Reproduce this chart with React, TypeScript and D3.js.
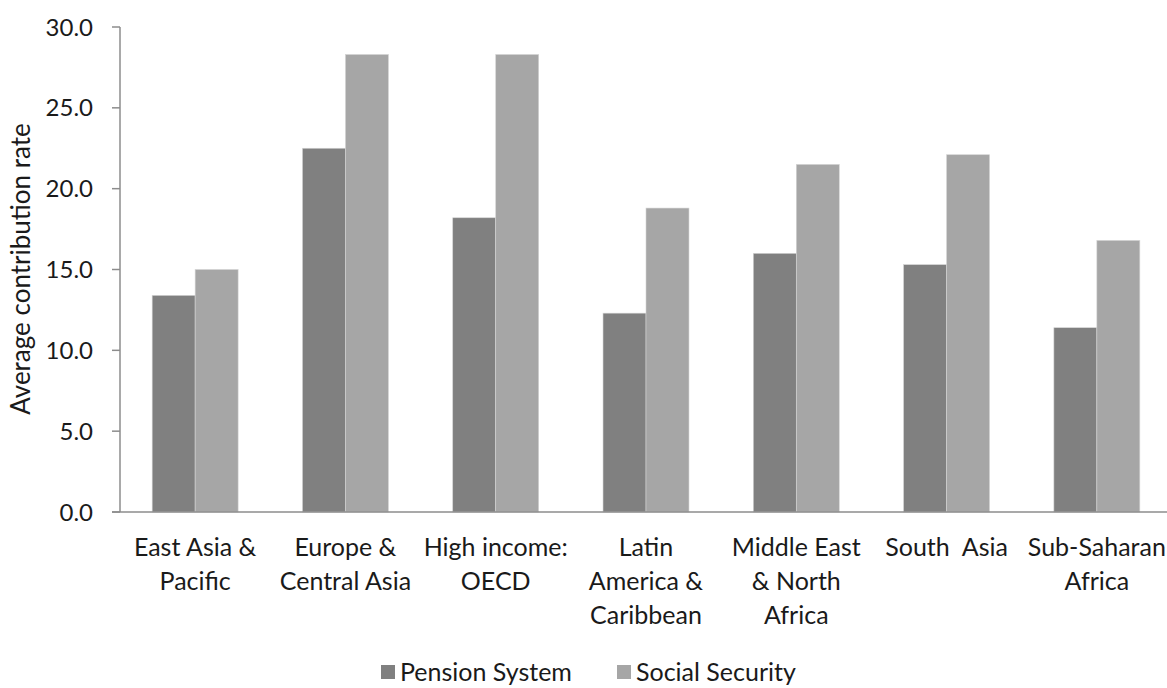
import * as d3 from "d3";

const regions = [
  ["East Asia &", "Pacific"],
  ["Europe &", "Central Asia"],
  ["High income:", "OECD"],
  ["Latin", "America &", "Caribbean"],
  ["Middle East", "& North", "Africa"],
  ["South  Asia"],
  ["Sub-Saharan", "Africa"],
];
const seriesNames = ["Pension System", "Social Security"];
const pensionSystem = [13.4, 22.5, 18.2, 12.3, 16.0, 15.3, 11.4];
const socialSecurity = [15.0, 28.3, 28.3, 18.8, 21.5, 22.1, 16.8];
const yTicks = [0, 5, 10, 15, 20, 25, 30];

const COLORS = ["#808080", "#a6a6a6"];
const FONT = "Lato, 'Open Sans', sans-serif";

export default function App() {
  const width = 1167;
  const height = 688;
  const left = 120;
  const right = 1172;
  const top = 27;
  const bottom = 512;

  const x0 = d3
    .scaleBand<number>()
    .domain(d3.range(regions.length))
    .range([left, right])
    .paddingInner(0.428)
    .paddingOuter(0.214);

  const x1 = d3.scaleBand<number>().domain([0, 1]).range([0, x0.bandwidth()]);

  const y = d3.scaleLinear().domain([0, 30]).range([bottom, top]);

  const values = [pensionSystem, socialSecurity];

  return (
    <svg
      width={width}
      height={height}
      style={{ position: "absolute", left: 0, top: 0, background: "#fff" }}
      fontFamily={FONT}
    >
      {/* bars */}
      {regions.map((_, i) =>
        values.map((vals, s) => (
          <rect
            key={`${i}-${s}`}
            x={(x0(i) ?? 0) + (x1(s) ?? 0)}
            y={y(vals[i])}
            width={x1.bandwidth()}
            height={y(0) - y(vals[i])}
            fill={COLORS[s]}
            stroke="#d4d4d4"
            strokeWidth={0.6}
          />
        ))
      )}

      {/* y axis */}
      <line x1={left} x2={left} y1={top} y2={bottom} stroke="#8c8c8c" strokeWidth={1.5} />
      {yTicks.map((t) => (
        <g key={t}>
          <line x1={left - 8} x2={left} y1={y(t)} y2={y(t)} stroke="#8c8c8c" strokeWidth={1.5} />
          <text
            x={93}
            y={y(t)}
            dy="0.36em"
            textAnchor="end"
            fontSize={24}
            fill="#1a1a1a"
          >
            {t.toFixed(1)}
          </text>
        </g>
      ))}

      {/* x axis */}
      <line x1={left - 8} x2={width} y1={bottom} y2={bottom} stroke="#8c8c8c" strokeWidth={1.5} />
      {regions.map((lines, i) => {
        const cx = (x0(i) ?? 0) + x0.bandwidth() / 2;
        return (
          <text key={i} textAnchor="middle" fontSize={25} fill="#1a1a1a">
            {lines.map((l, k) => (
              <tspan key={k} x={cx} y={556 + k * 34} style={{ whiteSpace: "pre" }}>
                {l}
              </tspan>
            ))}
          </text>
        );
      })}

      {/* y axis title */}
      <text
        transform={`translate(30,269) rotate(-90)`}
        textAnchor="middle"
        fontSize={26}
        fill="#1a1a1a"
      >
        Average contribution rate
      </text>

      {/* legend */}
      {seriesNames.map((name, s) => {
        const lx = s === 0 ? 381 : 617;
        return (
          <g key={name}>
            <rect x={lx} y={665} width={14} height={14} fill={COLORS[s]} />
            <text x={lx + 19} y={672} dy="0.36em" fontSize={25} fill="#1a1a1a">
              {name}
            </text>
          </g>
        );
      })}
    </svg>
  );
}
